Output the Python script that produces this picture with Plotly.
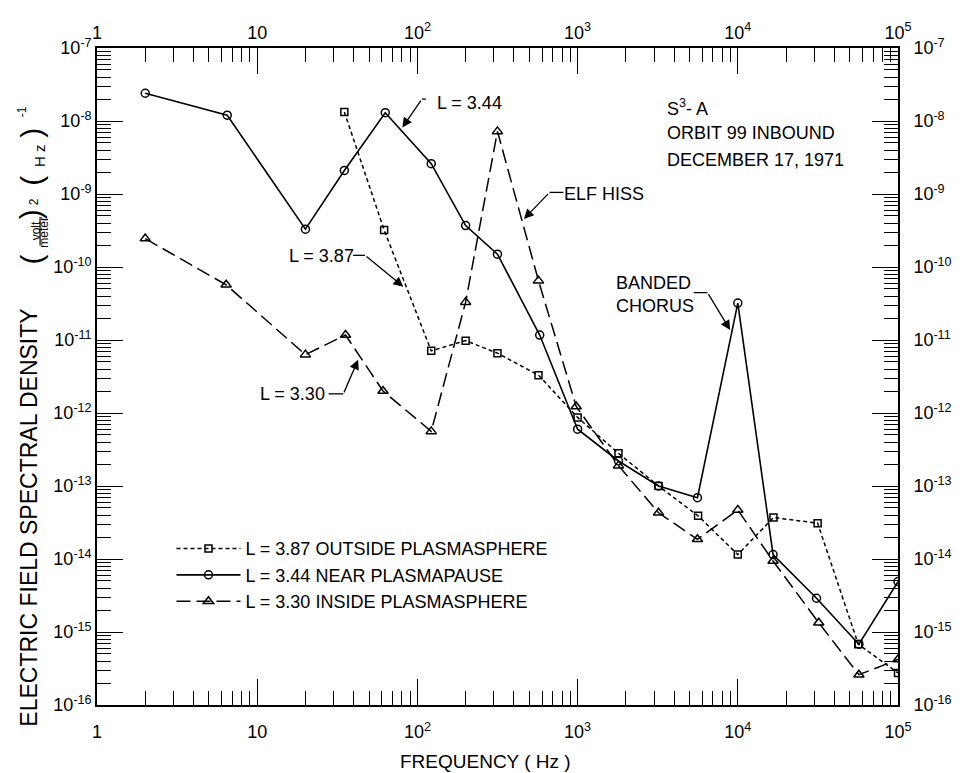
import plotly.graph_objects as go

# ---------------- data ----------------
freq_387 = [35, 62, 122, 200, 316, 570, 1000, 1800, 3200, 5650, 10000, 16700, 31500, 56500, 100000]
psd_387 = [1.33e-8, 3.2e-10, 7.1e-12, 9.8e-12, 6.6e-12, 3.3e-12, 8.7e-13, 2.8e-13, 1.0e-13,
           3.9e-14, 1.15e-14, 3.7e-14, 3.1e-14, 6.8e-16, 2.75e-16]

freq_344 = [2.0, 6.5, 20, 35, 63, 122, 200, 316, 580, 1000, 1800, 3200, 5600, 10000, 16600,
            31000, 57000, 100000]
psd_344 = [2.4e-8, 1.2e-8, 3.3e-10, 2.1e-9, 1.3e-8, 2.6e-9, 3.7e-10, 1.5e-10, 1.17e-11, 6.0e-13,
           2.2e-13, 1.0e-13, 6.9e-14, 3.2e-11, 1.15e-14, 2.9e-15, 6.8e-16, 4.9e-15]

freq_330 = [2.0, 6.4, 20, 35.6, 61, 122, 200, 316, 570, 980, 1800, 3200, 5600, 10000, 16600,
            32000, 57000, 100000]
psd_330 = [2.45e-10, 5.7e-11, 6.3e-12, 1.17e-11, 2.0e-12, 5.6e-13, 3.3e-11, 7.2e-9, 6.5e-11,
           1.23e-12, 1.9e-13, 4.3e-14, 1.86e-14, 4.7e-14, 9.4e-15, 1.34e-15, 2.6e-16, 4.2e-16]

names = ["L = 3.87 OUTSIDE PLASMASPHERE", "L = 3.44 NEAR PLASMAPAUSE", "L = 3.30 INSIDE PLASMASPHERE"]

x_tick_vals = [1, 10, 100, 1000, 10000, 100000]
x_tick_text = ["1", "10", "10<sup>2</sup>", "10<sup>3</sup>", "10<sup>4</sup>", "10<sup>5</sup>"]
y_tick_vals = [1e-16, 1e-15, 1e-14, 1e-13, 1e-12, 1e-11, 1e-10, 1e-9, 1e-8, 1e-7]
y_tick_text = ["10<sup>-16</sup>", "10<sup>-15</sup>", "10<sup>-14</sup>", "10<sup>-13</sup>",
               "10<sup>-12</sup>", "10<sup>-11</sup>", "10<sup>-10</sup>", "10<sup>-9</sup>",
               "10<sup>-8</sup>", "10<sup>-7</sup>"]

FONT = "Liberation Sans, Arial, sans-serif"
INK = "black"

fig = go.Figure()
fig.add_trace(go.Scatter(x=freq_387, y=psd_387, name=names[0], mode="lines+markers",
                         line=dict(color=INK, width=1.5, dash="4px,3px"),
                         marker=dict(symbol="square-open", size=7, color=INK, line=dict(width=1.5))))
fig.add_trace(go.Scatter(x=freq_344, y=psd_344, name=names[1], mode="lines+markers",
                         line=dict(color=INK, width=1.6),
                         marker=dict(symbol="circle-open", size=8, color=INK, line=dict(width=1.5))))
fig.add_trace(go.Scatter(x=freq_330, y=psd_330, name=names[2], mode="lines+markers",
                         line=dict(color=INK, width=1.5, dash="14px,6px"),
                         marker=dict(symbol="triangle-up-open", size=9, color=INK, line=dict(width=1.5))))
# empty trace so the mirrored (top/right) axes exist
fig.add_trace(go.Scatter(x=[], y=[], xaxis="x2", yaxis="y2", showlegend=False, hoverinfo="skip"))

minor = dict(ticks="inside", ticklen=14, tickwidth=1.2, tickcolor=INK, showgrid=False, dtick="D1")
common = dict(type="log", showline=True, linecolor=INK, linewidth=1.6, ticks="inside", ticklen=26,
              tickwidth=1.4, tickcolor=INK, showgrid=False, zeroline=False, minor=minor,
              tickfont=dict(family=FONT, size=18, color=INK), tickmode="array")

# the page body has an 8px margin, so the figure is drawn 8px in from the top-left corner
fig.update_layout(
    width=956, height=765,
    margin=dict(l=89, r=51, t=28, b=68),
    paper_bgcolor="white", plot_bgcolor="white",
    font=dict(family=FONT, size=18, color=INK),
    xaxis=dict(**common, range=[0, 5], tickvals=x_tick_vals, ticktext=x_tick_text,
               side="bottom", ticklabelstandoff=10),
    xaxis2=dict(**common, range=[0, 5], tickvals=x_tick_vals, ticktext=x_tick_text,
                side="top", overlaying="x", anchor="y"),
    yaxis=dict(**common, range=[-16, -7], tickvals=y_tick_vals, ticktext=y_tick_text, side="left",
               ticklabelstandoff=0),
    yaxis2=dict(**common, range=[-16, -7], tickvals=y_tick_vals, ticktext=y_tick_text,
                side="right", overlaying="y", anchor="x", ticklabelstandoff=10),
    showlegend=True,
    legend=dict(x=0.093, y=0.266, xanchor="left", yanchor="top", bgcolor="rgba(0,0,0,0)",
                font=dict(family=FONT, size=18, color=INK), itemwidth=64),
)

# ---------------- annotations ----------------
ann = []
# labels with leader lines: (text, text lx, text ly, leader start lx, bend lx, bend ly, head lx, head ly)
leaders = [
    ("L = 3.44", 2.328, -7.754, 2.053, 2.028, -7.70, 1.906, -8.09),
    ("L = 3.87", 1.403, -9.853, 1.599, 1.673, -9.84, 1.912, -10.27),
    ("L = 3.30", 1.219, -11.738, 1.446, 1.538, -11.738, 1.630, -11.27),
    ("ELF HISS", 3.162, -9.005, 2.911, 2.825, -8.978, 2.665, -9.342),
    ("BANDED<br>CHORUS", 3.480, -10.378, 3.725, 3.811, -10.351, 3.952, -10.863),
]
shapes = []
for txt, tx, ty, sx, bx, by, hx, hy in leaders:
    ann.append(dict(text=txt, x=tx, y=ty, xref="x", yref="y", showarrow=False,
                    xanchor="center", yanchor="middle",
                    font=dict(family=FONT, size=18, color=INK), align="left"))
    ann.append(dict(text="", x=hx, y=hy, ax=bx, ay=by, xref="x", yref="y", axref="x", ayref="y",
                    showarrow=True, arrowhead=2, arrowsize=1.5, arrowwidth=1.3, arrowcolor=INK,
                    standoff=0, startstandoff=0))
    shapes.append(dict(type="line", xref="paper", yref="paper", x0=sx / 5, x1=bx / 5,
                       y0=(by + 16) / 9, y1=(by + 16) / 9, line=dict(color=INK, width=1.3)))

for txt, ly in [("S<sup>3</sup>- A", -7.821), ("ORBIT 99 INBOUND", -8.171), ("DECEMBER 17, 1971", -8.534)]:
    ann.append(dict(text=txt, x=3.548, y=ly, xref="x", yref="y", xanchor="left", yanchor="middle",
                    showarrow=False, font=dict(family=FONT, size=18, color=INK)))


def px(xp):
    return (xp - 97) / 816


def py(yp):
    return (705 - yp) / 669


ann.append(dict(text="FREQUENCY ( Hz )", x=px(493), y=py(763), xref="paper", yref="paper",
                xanchor="center", yanchor="middle",
                showarrow=False, font=dict(family=FONT, size=19, color=INK)))
ann.append(dict(text="ELECTRIC FIELD SPECTRAL DENSITY", x=px(28), y=py(514), xref="paper", yref="paper",
                xanchor="center", yanchor="middle",
                showarrow=False, textangle=-90, font=dict(family=FONT, size=23, color=INK)))
# units: ( volt / meter )^2 ( Hz )^-1 , rotated
unit_parts = [
    ("(", 30, 251, 30), ("volt", 34.5, 222, 12), ("meter", 43, 223, 12), (")", 30, 205, 30),
    ("2", 33, 193, 12), ("(", 30, 171, 30), ("H z", 38, 146, 15), (")", 30, 122, 30), ("-1", 20, 101, 12),
]
for t, xx, yy, s in unit_parts:
    ann.append(dict(text=t, x=px(xx), y=py(yy), xref="paper", yref="paper", showarrow=False,
                    xanchor="center", yanchor="middle",
                    textangle=-90, font=dict(family=FONT, size=s, color=INK)))
shapes.append(dict(type="line", xref="paper", yref="paper", x0=px(39), x1=px(39), y0=py(208), y1=py(237),
                   line=dict(color=INK, width=1.2)))

fig.update_layout(annotations=ann, shapes=shapes)
fig.write_html("out.html")
